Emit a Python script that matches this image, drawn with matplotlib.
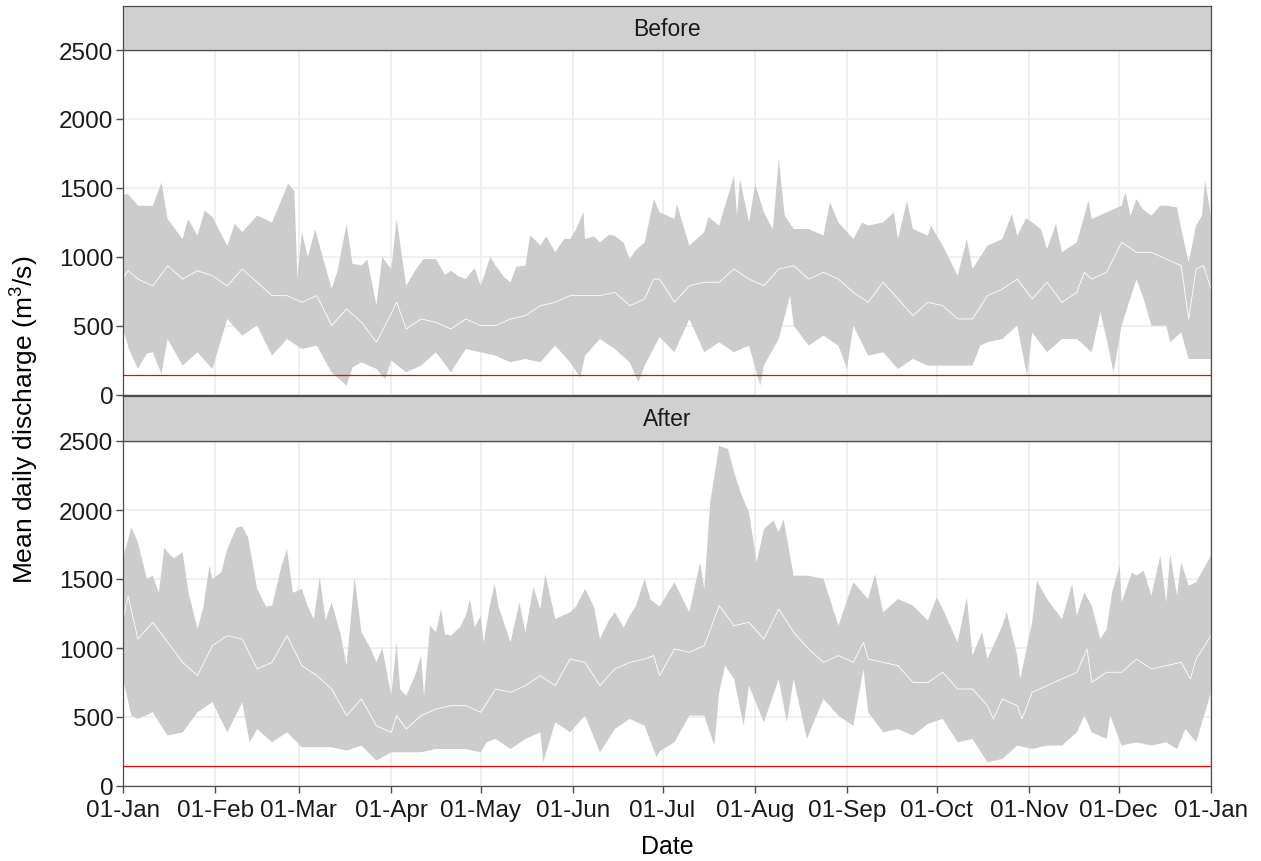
import numpy as np
import matplotlib
matplotlib.use("Agg")
import matplotlib.pyplot as plt

plt.rcParams['font.family'] = ['Liberation Sans', 'DejaVu Sans']
plt.rcParams['mathtext.fontset'] = 'custom'
plt.rcParams['mathtext.rm'] = 'Liberation Sans'
plt.rcParams['mathtext.it'] = 'Liberation Sans:italic'
plt.rcParams['mathtext.bf'] = 'Liberation Sans:bold'

# ---------------- data (day of year, value in m3/s) ----------------
month_ticks = [0, 31, 59, 90, 120, 151, 181, 212, 243, 273, 304, 334, 365]
month_labels = ["01-Jan", "01-Feb", "01-Mar", "01-Apr", "01-May", "01-Jun", "01-Jul",
                "01-Aug", "01-Sep", "01-Oct", "01-Nov", "01-Dec", "01-Jan"]
threshold = 145

before_max_day = [0, 1.7, 5, 10, 12.9, 15, 20, 21.8, 25, 27.4, 30, 35, 37.5, 40, 45, 50, 55.4, 57.5, 58.5,
                  60, 62, 64.5, 67, 70, 72, 75, 77, 80, 82, 85, 87, 90, 91.8, 95, 98, 100.8, 105, 108, 110,
                  112.5, 115, 118, 120, 123.2, 125, 128, 130, 132, 135, 136.6, 138, 140, 142, 145, 148, 150,
                  152, 154.5, 155, 158, 160, 163, 165, 168, 170, 172, 175, 178.1, 180, 185, 185.8, 190, 195,
                  196.4, 200, 205, 206, 207, 210, 212.1, 215, 218, 220, 222, 225, 230, 235, 237.2, 240, 245,
                  248, 250, 255, 258.6, 260, 263, 265, 270, 271, 275, 280, 283.1, 285, 290, 295, 298.2, 300,
                  303, 305, 308, 310, 313, 315, 320, 323.9, 325, 330, 335, 336.3, 338, 340, 342, 345, 348,
                  350, 353.6, 355, 357.5, 360, 362, 363, 365]
before_max = [1450, 1456, 1372, 1370, 1540, 1275, 1130, 1275, 1155, 1336, 1290, 1080, 1240, 1180, 1300, 1250,
              1530, 1480, 850, 1180, 1000, 1200, 1000, 770, 900, 1240, 950, 940, 980, 650, 1000, 910, 1275,
              792, 900, 985, 985, 870, 900, 860, 841, 920, 792, 1000, 937, 850, 817, 930, 937, 1155, 1130,
              1082, 1150, 1034, 1130, 1130, 1200, 1324, 1130, 1150, 1106, 1160, 1155, 1100, 985, 1050, 1106,
              1420, 1324, 1275, 1384, 1082, 1179, 1290, 1227, 1590, 1300, 1565, 1251, 1529, 1324, 1200, 1710,
              1300, 1203, 1203, 1155, 1396, 1251, 1130, 1250, 1227, 1251, 1324, 1130, 1408, 1203, 1155, 1227,
              1082, 865, 1130, 913, 1082, 1130, 1312, 1155, 1280, 1251, 1200, 1058, 1240, 1034, 1106, 1408,
              1275, 1324, 1372, 1469, 1300, 1420, 1350, 1300, 1372, 1372, 1360, 1203, 961, 1227, 1300, 1553,
              1300]

before_mean_day = [0, 1.7, 5, 10, 15, 20, 25, 30, 35, 40, 45, 50, 55, 60, 65, 70, 75, 80, 85, 90, 91.8, 95,
                   100, 105, 110, 115, 120, 125, 130, 135, 140, 145, 150, 155, 160, 165, 170, 175, 178, 180,
                   185, 190, 195, 200, 205, 210, 215, 220, 225, 230, 235, 240, 245, 250, 255, 260, 265, 270,
                   275, 280, 285, 290, 295, 300, 305, 310, 315, 320, 322.5, 325, 330, 335, 340, 345, 350, 355,
                   357.5, 360, 362.5, 365]
before_mean = [850, 901, 840, 790, 937, 840, 900, 865, 790, 913, 817, 720, 720, 672, 720, 503, 623, 527, 382,
               590, 672, 479, 551, 527, 479, 551, 503, 503, 551, 575, 647, 672, 720, 720, 720, 744, 647, 696,
               840, 840, 672, 792, 817, 817, 913, 840, 792, 913, 937, 840, 889, 840, 744, 672, 817, 696, 575,
               672, 647, 551, 551, 720, 768, 840, 696, 817, 672, 744, 889, 840, 889, 1106, 1034, 1034, 985, 937,
               551, 913, 937, 768]

before_min_day = [0, 2, 5, 8, 10, 12.9, 15, 20, 25, 30, 35, 40, 45, 50, 55, 60, 65, 70, 75, 77, 80, 85, 88,
                  90, 95, 100, 105, 110, 115, 120, 125, 130, 135, 140, 145, 150, 153.4, 155, 160, 165, 170,
                  172.9, 175, 180, 185, 190, 195, 200, 205, 210, 213.8, 215, 220, 223.8, 225, 230, 235, 240,
                  242.9, 245, 250, 255, 260, 265, 270, 275, 280, 285, 287.6, 290, 295, 300, 303.3, 305, 310,
                  315, 320, 325, 327.9, 330, 332.3, 335, 340, 342.4, 345, 350, 351.3, 355, 357.5, 360, 365]
before_min = [480, 333, 189, 300, 310, 152, 406, 213, 310, 189, 551, 430, 503, 285, 406, 333, 358, 164, 68,
              200, 237, 189, 116, 250, 164, 213, 310, 164, 333, 310, 285, 237, 261, 237, 358, 237, 128, 285,
              406, 333, 237, 92, 213, 420, 310, 551, 310, 382, 310, 358, 68, 213, 406, 720, 503, 358, 430, 358,
              189, 503, 285, 310, 189, 261, 213, 213, 213, 213, 358, 382, 406, 503, 140, 454, 310, 406, 406,
              310, 599, 406, 164, 503, 840, 696, 503, 503, 382, 454, 261, 261, 261]

after_max_day = [0, 2.8, 5, 8, 10, 12, 13.9, 15, 17, 20, 22, 25, 27, 29, 30, 33, 35, 38, 40, 42, 45, 48, 50,
                 53, 55, 57, 60, 62, 64, 66, 68, 70, 73, 75, 77.7, 80, 83, 85, 87, 90, 91.8, 93, 95, 98, 100,
                 101, 103, 105, 106.7, 108, 110, 113, 115, 116.4, 118, 120, 121, 123, 124.7, 126, 130, 133,
                 135, 137.7, 140, 141.7, 145, 150, 152, 155, 158, 160, 163, 165, 168, 170, 172, 175, 177, 180,
                 185, 190, 193.6, 195, 197, 200, 203, 205, 207.6, 210, 212.6, 215, 218.2, 220, 221.6, 225,
                 230, 235, 240, 245, 250, 252.3, 255, 260, 265, 270, 273, 275, 280, 283.1, 285, 288.2, 290,
                 295, 296.5, 300, 301, 305, 306.6, 310, 315, 318.4, 320, 322.5, 325, 327.9, 330, 331.8, 334.4,
                 335, 338.5, 340, 342.4, 345, 348, 350, 351.3, 353.6, 355, 357.5, 360, 365]
after_max = [1650, 1874, 1766, 1500, 1524, 1400, 1730, 1693, 1650, 1693, 1400, 1138, 1300, 1597, 1500, 1550,
             1717, 1870, 1882, 1800, 1428, 1300, 1307, 1580, 1717, 1400, 1428, 1300, 1210, 1512, 1200, 1331,
             1100, 872, 1512, 1114, 1000, 896, 1000, 655, 1041, 700, 655, 800, 945, 650, 1162, 1114, 1283,
             1100, 1090, 1150, 1234, 1355, 1150, 1234, 1041, 1300, 1464, 1300, 1041, 1331, 1114, 1440, 1283,
             1536, 1210, 1259, 1300, 1428, 1300, 1065, 1200, 1259, 1150, 1234, 1300, 1500, 1350, 1300, 1476,
             1259, 1621, 1428, 2056, 2466, 2442, 2273, 2104, 1983, 1621, 1862, 1923, 1838, 1935, 1524, 1524,
             1500, 1162, 1476, 1355, 1536, 1259, 1355, 1307, 1200, 1367, 1283, 1041, 1367, 945, 1114, 920,
             1162, 1259, 945, 776, 1186, 1488, 1355, 1210, 1464, 1234, 1403, 1307, 1065, 1138, 1403, 1597,
             1331, 1548, 1524, 1560, 1379, 1669, 1331, 1681, 1379, 1621, 1452, 1476, 1669]

after_mean_day = [0, 1.7, 5, 10, 15, 20, 25, 30, 35, 40, 45, 50, 55, 60, 65, 70, 75, 80, 85, 90, 91.8, 95,
                  100, 105, 110, 115, 120, 125, 130, 135, 140, 145, 150, 155, 160, 165, 170, 175, 178, 180,
                  185, 190, 195, 200, 205, 210, 215, 220, 225, 230, 235, 240, 245, 248.4, 250, 255, 260, 265,
                  270, 275, 280, 285, 290, 292, 295, 300, 301.6, 305, 310, 315, 320, 323.4, 325, 330, 335,
                  340, 345, 350, 355, 358.1, 360, 365]
after_mean = [1210, 1379, 1065, 1186, 1041, 896, 800, 1017, 1090, 1065, 848, 896, 1090, 872, 800, 703, 510,
              631, 437, 389, 510, 413, 510, 558, 582, 582, 534, 703, 679, 727, 800, 727, 920, 896, 727, 848,
              896, 920, 945, 800, 993, 969, 1017, 1307, 1162, 1186, 1065, 1283, 1114, 993, 896, 945, 896,
              1041, 920, 896, 872, 751, 750, 824, 703, 703, 582, 486, 631, 582, 486, 679, 727, 776, 824, 993,
              751, 824, 824, 920, 848, 872, 896, 776, 920, 1090]

after_min_day = [0, 2.8, 5, 10, 15, 20, 25, 30, 35, 40, 42.5, 45, 50, 55, 60, 65, 70, 75, 80, 85, 90, 95,
                 100, 105, 110, 115, 120, 122, 125, 130, 135, 140, 141, 145, 150, 155, 160, 165, 170, 175, 179,
                 180, 185, 190, 195, 198.4, 200, 202, 205, 208.2, 210, 215, 220, 222.7, 225, 229.4, 235, 240,
                 245, 248.4, 250, 255, 260, 265, 270, 275, 280, 285, 290, 295, 300, 305, 310, 315, 320, 322.5,
                 325, 330, 331.2, 335, 340, 345, 350, 353.6, 356.4, 360, 365]
after_min = [776, 510, 486, 534, 365, 389, 534, 607, 389, 607, 317, 413, 317, 389, 281, 281, 281, 256, 293,
             184, 244, 244, 244, 268, 268, 268, 244, 317, 341, 268, 341, 389, 172, 462, 389, 510, 244, 413,
             486, 437, 208, 250, 317, 510, 510, 293, 679, 872, 776, 437, 727, 462, 776, 462, 776, 341, 631,
             510, 437, 848, 534, 389, 413, 365, 450, 486, 317, 341, 172, 196, 293, 268, 293, 293, 389, 510,
             389, 341, 510, 293, 317, 293, 317, 268, 413, 317, 679]

panels = [
    ("Before", before_max_day, before_max, before_min_day, before_min, before_mean_day, before_mean),
    ("After", after_max_day, after_max, after_min_day, after_min, after_mean_day, after_mean),
]

# ---------------- figure ----------------
W, H = 1261, 862
fig = plt.figure(figsize=(W / 100, H / 100), dpi=100)

def fx(px):
    return px / W

def fy(py):
    return 1 - py / H

left, right = 123, 1211
layout = [  # (strip_top, strip_bottom/panel_top, panel_bottom)
    (7, 51, 396),
    (397, 442, 787),
]

border_col = "#4D4D4D"
tick_col = "#4D4D4D"
grid_col = "#EBEBEB"
ribbon_col = "#CCCCCC"
text_col = "#1A1A1A"

for i, ((st, pt, pb), (name, umd, umv, lmd, lmv, md, mv)) in enumerate(zip(layout, panels)):
    ax = fig.add_axes([fx(left), fy(pb), fx(right - left), fy(pt) - fy(pb)])
    ax.set_xlim(0, 365)
    ax.set_ylim(0, 2500)
    ax.set_facecolor("white")
    ax.set_xticks(month_ticks)
    ax.set_yticks([0, 500, 1000, 1500, 2000, 2500])
    ax.grid(True, color=grid_col, lw=1.1, zorder=0)
    ax.set_axisbelow(True)
    for s in ax.spines.values():
        s.set_color(border_col)
        s.set_linewidth(0.9)
        s.set_zorder(5)

    xs = np.concatenate([np.array(umd, float), np.array(lmd, float)[::-1]])
    ys = np.concatenate([np.array(umv, float), np.array(lmv, float)[::-1]])
    ax.fill(xs, ys, color=ribbon_col, lw=0, zorder=2)
    ax.plot(md, mv, color="white", lw=0.6, zorder=3)
    ax.axhline(threshold, color="#FF0000", lw=0.9, zorder=4)

    ax.tick_params(axis="y", direction="out", length=5, width=1.0, color=tick_col,
                   labelsize=17.5, labelcolor=text_col, pad=2)
    if i == 0:
        ax.tick_params(axis="x", length=0, labelbottom=False)
    else:
        ax.set_xticklabels(month_labels)
        ax.tick_params(axis="x", direction="out", length=5, width=1.0, color=tick_col,
                       labelsize=17.5, labelcolor=text_col, pad=4.5)

    # facet strip
    sax = fig.add_axes([fx(left), fy(pt), fx(right - left), fy(st) - fy(pt)])
    sax.set_facecolor("#D0D0D0")
    sax.set_xticks([])
    sax.set_yticks([])
    for s in sax.spines.values():
        s.set_color(border_col)
        s.set_linewidth(0.9)
    sax.text(0.5, 0.5, name, ha="center", va="center", fontsize=16.5, color=text_col,
             transform=sax.transAxes)

fig.text(fx((left + right) / 2), fy(847), "Date", ha="center", va="center", fontsize=18, color="black")
fig.text(fx(25), fy(420), "Mean daily discharge (m$^3$/s)", ha="center", va="center",
         rotation=90, fontsize=19, color="black")

fig.savefig("out.png", dpi=100)
